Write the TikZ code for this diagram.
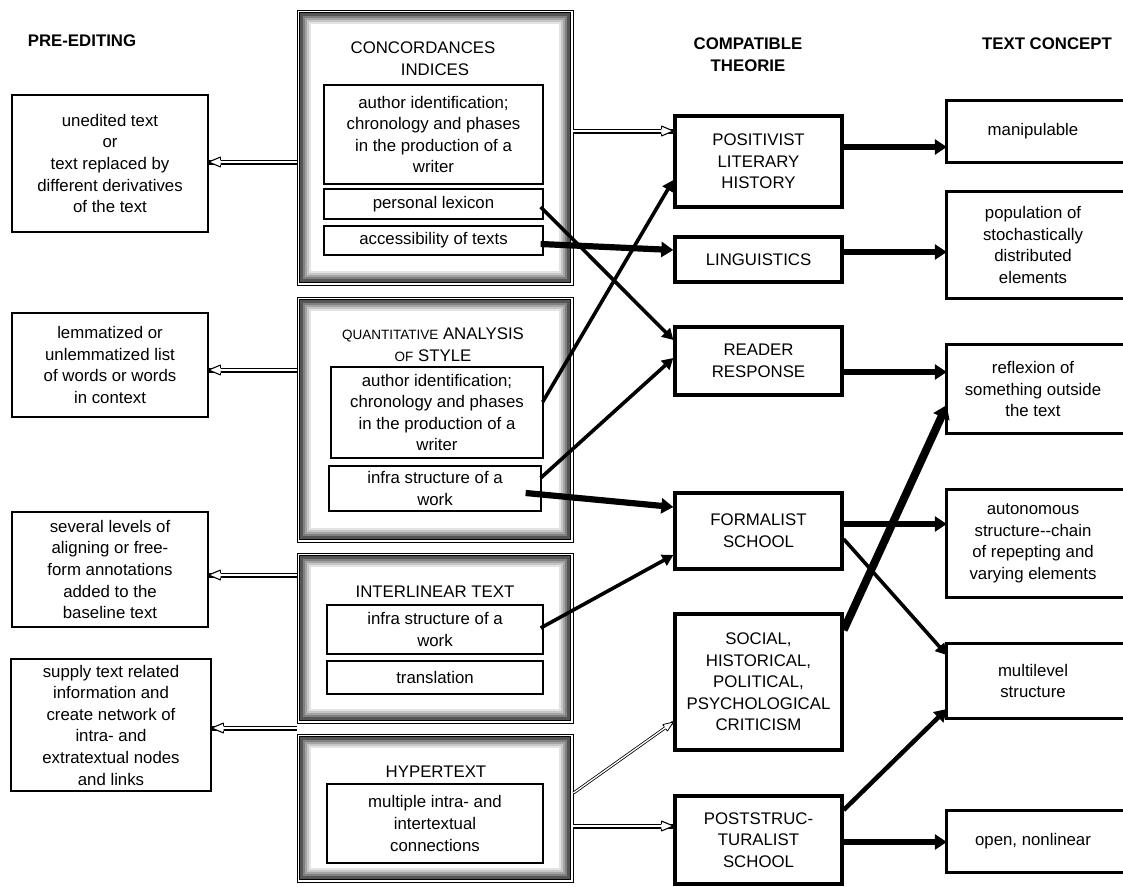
\documentclass[tikz,border=0pt]{standalone}
\usepackage{fontspec}
\setmainfont{Liberation Sans}
\usetikzlibrary{arrows.meta,calc,decorations.markings}

\definecolor{frameA}{HTML}{555555}
\definecolor{frameB}{HTML}{808080}
\definecolor{frameC}{HTML}{A4A4A4}
\definecolor{frameD}{HTML}{C6C6C6}
\definecolor{frameE}{HTML}{E3E3E3}

\newcommand\qsmall[1]{{\fontsize{13.5}{16}\selectfont #1}}
% double-lined arrow with an open head
\newcommand\hollowarrow[2]{%
  \draw[hollowline] (#1) -- (#2);
  \path[hollowhead] (#1) -- (#2);}
\newcommand\hollowarrowthin[2]{%
  \draw[hollowlinethin] (#1) -- (#2);
  \path[hollowheadthin] (#1) -- (#2);}

\begin{document}
\begin{tikzpicture}[x=1pt,y=-1pt,
  every node/.style={font=\fontsize{16.8}{21.6}\selectfont, align=center, inner sep=0pt},
  heading/.style={font=\bfseries\fontsize{16.8}{22}\selectfont},
  srcbox/.style={draw, line width=1.3pt},
  groupbox/.style={draw, line width=0.9pt},
  itembox/.style={draw, line width=1.3pt},
  theorybox/.style={draw, line width=3.3pt},
  conceptbox/.style={minimum width=172pt},
  hollowline/.style={double=white, double distance=2.8pt, line width=1.1pt},
  hollowlinethin/.style={double=white, double distance=1.3pt, line width=0.8pt},
  hollowhead/.style={postaction={decorate, decoration={markings, mark=at position 1 with {
      \fill[white] (0pt,0pt) -- (-12pt,5pt) -- (-12pt,-5pt) -- cycle;
      \draw[line width=1.1pt, line join=miter] (-12pt,5pt) -- (0pt,0pt) -- (-12pt,-5pt);
      \draw[line width=1.1pt] (-12pt,5pt) -- (-12pt,2.5pt) (-12pt,-5pt) -- (-12pt,-2.5pt);}}}},
  hollowheadthin/.style={postaction={decorate, decoration={markings, mark=at position 1 with {
      \fill[white] (0pt,0pt) -- (-10pt,4pt) -- (-10pt,-4pt) -- cycle;
      \draw[line width=0.8pt, line join=miter] (-10pt,4pt) -- (0pt,0pt) -- (-10pt,-4pt);
      \draw[line width=0.8pt] (-10pt,4pt) -- (-10pt,1.5pt) (-10pt,-4pt) -- (-10pt,-1.5pt);}}}},
  thinarr/.style={line width=3.6pt, -{Triangle[length=11pt,width=12pt]}},
  thickarr/.style={line width=6.2pt, -{Triangle[length=12pt,width=15pt]}},
  heavyarr/.style={line width=8pt, -{Triangle[length=13pt,width=17pt]}}
]
\path[use as bounding box, fill=white] (0,0) rectangle (1123,886);

% column headings
\node[heading] (h1) at (82,41) {PRE-EDITING};
\node[heading] (h2) at (748,55) {COMPATIBLE\\THEORIE};
\node[heading] (h3) at (1047,44) {TEXT CONCEPT};

% pre-editing results
\node[srcbox, minimum width=196pt, minimum height=137pt] (L1) at (110,163.5)
  {unedited text\\or\\text replaced by\\different derivatives\\of the text};
\node[srcbox, minimum width=196pt, minimum height=104pt] (L2) at (110,365)
  {lemmatized or\\unlemmatized list\\of words or words\\in context};
\node[srcbox, minimum width=196pt, minimum height=115pt] (L3) at (110,569.5)
  {several levels of\\aligning or free-\\form annotations\\added to the\\baseline text};
\node[srcbox, minimum width=200pt, minimum height=132pt] (L4) at (111,725)
  {supply text related\\information and\\create network of\\intra- and\\extratextual nodes\\and links};

% tool groups with a bevelled frame
\node[groupbox, minimum width=276pt, minimum height=275pt] (g1) at (435,147.5) {};
\node[groupbox, minimum width=276pt, minimum height=245pt] (g2) at (435,419.5) {};
\node[groupbox, minimum width=276pt, minimum height=170pt] (g3) at (435,638) {};
\node[groupbox, minimum width=276pt, minimum height=148pt] (g4) at (435,808) {};
\foreach \g in {g1,g2,g3,g4}{
  \foreach \d/\c/\w in {2.6/black/0.8, 4.6/frameA/2.8, 7.0/frameB/2.0, 9.0/frameC/2.0, 11.0/frameD/2.0, 13.0/frameE/2.0}
    \draw[draw=\c, line width=\w pt] ([shift={(\d,\d)}]\g.north west) rectangle ([shift={(-\d,-\d)}]\g.south east);
}

\node (t1) at (423,59) {CONCORDANCES\\\hspace*{24pt}INDICES};
\node (t2) at (433,344.5) {\qsmall{QUANTITATIVE} ANALYSIS\\\qsmall{OF} STYLE};
\node (t3) at (435,592) {INTERLINEAR TEXT};
\node (t4) at (436,772) {HYPERTEXT};

\node[itembox, minimum width=219pt, minimum height=99pt] (g1a) at (433.5,134.5)
  {author identification;\\chronology and phases\\in the production of a\\writer};
\node[itembox, minimum width=219pt, minimum height=30pt] (g1b) at (433.5,204) {personal lexicon};
\node[itembox, minimum width=219pt, minimum height=29pt] (g1c) at (433.5,240.5) {accessibility of texts};
\node[itembox, minimum width=212pt, minimum height=91pt] (g2a) at (437,412.5)
  {author identification;\\chronology and phases\\in the production of a\\writer};
\node[itembox, minimum width=212pt, minimum height=45pt] (g2b) at (435,488.5) {infra structure of a\\work};
\node[itembox, minimum width=216pt, minimum height=49pt] (g3a) at (435,629.5) {infra structure of a\\work};
\node[itembox, minimum width=216pt, minimum height=33pt] (g3b) at (435,677.5) {translation};
\node[itembox, minimum width=216pt, minimum height=79pt] (g4a) at (435,823.5)
  {multiple intra- and\\intertextual\\connections};

% compatible theories
\node[theorybox, minimum width=167pt, minimum height=91pt] (M1) at (758.5,161.5) {POSITIVIST\\LITERARY\\HISTORY};
\node[theorybox, minimum width=167pt, minimum height=45pt] (M2) at (758.5,259.5) {LINGUISTICS};
\node[theorybox, minimum width=167pt, minimum height=68pt] (M3) at (758.5,361) {READER\\RESPONSE};
\node[theorybox, minimum width=167pt, minimum height=76pt] (M4) at (758.5,531) {FORMALIST\\SCHOOL};
\node[theorybox, minimum width=167pt, minimum height=136pt] (M5) at (758.5,682)
  {SOCIAL,\\HISTORICAL,\\POLITICAL,\\PSYCHOLOGICAL\\CRITICISM};
\node[theorybox, minimum width=167pt, minimum height=88pt] (M6) at (758.5,840) {POSTSTRUC-\\TURALIST\\SCHOOL};

% text concepts (boxes run past the right edge)
\node[conceptbox, minimum height=61pt] (R1) at (1033,131.5) {manipulable};
\node[conceptbox, minimum height=106pt] (R2) at (1033,245) {population of\\stochastically\\distributed\\elements};
\node[conceptbox, minimum height=88pt] (R3) at (1033,389) {reflexion of\\something outside\\the text};
\node[conceptbox, minimum height=107pt] (R4) at (1033,543.5) {autonomous\\structure-{}-chain\\of repepting and\\varying elements};
\node[conceptbox, minimum height=74pt] (R5) at (1033,681) {multilevel\\structure};
\node[conceptbox, minimum height=61pt] (R6) at (1033,841.5) {open, nonlinear};
\foreach \rb in {R1,R2,R3,R4,R5,R6}
  \draw[line width=3.3pt] ([xshift=220pt]\rb.north west) -- (\rb.north west) -- (\rb.south west) -- ([xshift=220pt]\rb.south west);

% outputs of the tool groups
\coordinate (a1) at ([yshift=1.5pt]L1.east);
\coordinate (a2) at ([yshift=-5pt]L2.east);
\coordinate (a3) at ([yshift=-5.5pt]L3.east);
\coordinate (a4) at ([yshift=-3pt]L4.east);
\hollowarrow{a1 -| g1.west}{a1}
\hollowarrow{a2 -| g2.west}{a2}
\hollowarrow{a3 -| g3.west}{a3}
\hollowarrow{a4 -| g4.west}{a4}

\coordinate (b1) at ([yshift=30.5pt]M1.west);
\coordinate (b6) at ([yshift=14pt]M6.west);
\coordinate (b5s) at ([yshift=15pt]g4.east);
\coordinate (b5e) at ([yshift=-40pt]M5.west);
\hollowarrow{b1 -| g1.east}{b1}
\hollowarrow{b6 -| g4.east}{b6}
\hollowarrowthin{b5s}{b5e}

% tools to theories
\draw[thinarr] ([xshift=-3pt,yshift=-3pt]g1b.east) -- ([yshift=21pt]M3.west);
\draw[thickarr] ([xshift=-3pt,yshift=-3.5pt]g1c.east) -- ([yshift=9.5pt]M2.west);
\draw[thinarr] ([xshift=-1pt,yshift=10.5pt]g2a.east) -- ([yshift=-18.5pt]M1.west);
\draw[thinarr] ([xshift=-1pt,yshift=10.5pt]g2b.east) -- ([yshift=3pt]M3.west);
\draw[thickarr] ([xshift=-16pt,yshift=-4.5pt]g2b.east) -- ([yshift=24pt]M4.west);
\draw[thinarr] ([xshift=-3pt,yshift=1.5pt]g3a.east) -- ([yshift=-24pt]M4.west);

% theories to text concepts
\coordinate (c1) at ([yshift=14.5pt]M1.east);
\coordinate (c2) at ([yshift=7.5pt]M2.east);
\coordinate (c3) at ([yshift=-11pt]M3.east);
\coordinate (c4) at ([yshift=7pt]M4.east);
\coordinate (c6) at ([yshift=-2pt]M6.east);
\draw[thickarr] (c1) -- (c1 -| R1.west);
\draw[thickarr] (c2) -- (c2 -| R2.west);
\draw[thickarr] (c3) -- (c3 -| R3.west);
\draw[thickarr] (c4) -- (c4 -| R4.west);
\draw[thickarr] (c6) -- (c6 -| R6.west);
\draw[thinarr] ([yshift=-8pt]M4.east) -- ([yshift=26pt]R5.west);
\draw[heavyarr] ([yshift=52pt]M5.east) -- ([yshift=-16pt]R3.west);
\draw[line width=4.5pt, -{Triangle[length=12pt,width=14pt]}] ([yshift=30pt]M6.east) -- ([yshift=-28pt]R5.west);
\end{tikzpicture}
\end{document}
